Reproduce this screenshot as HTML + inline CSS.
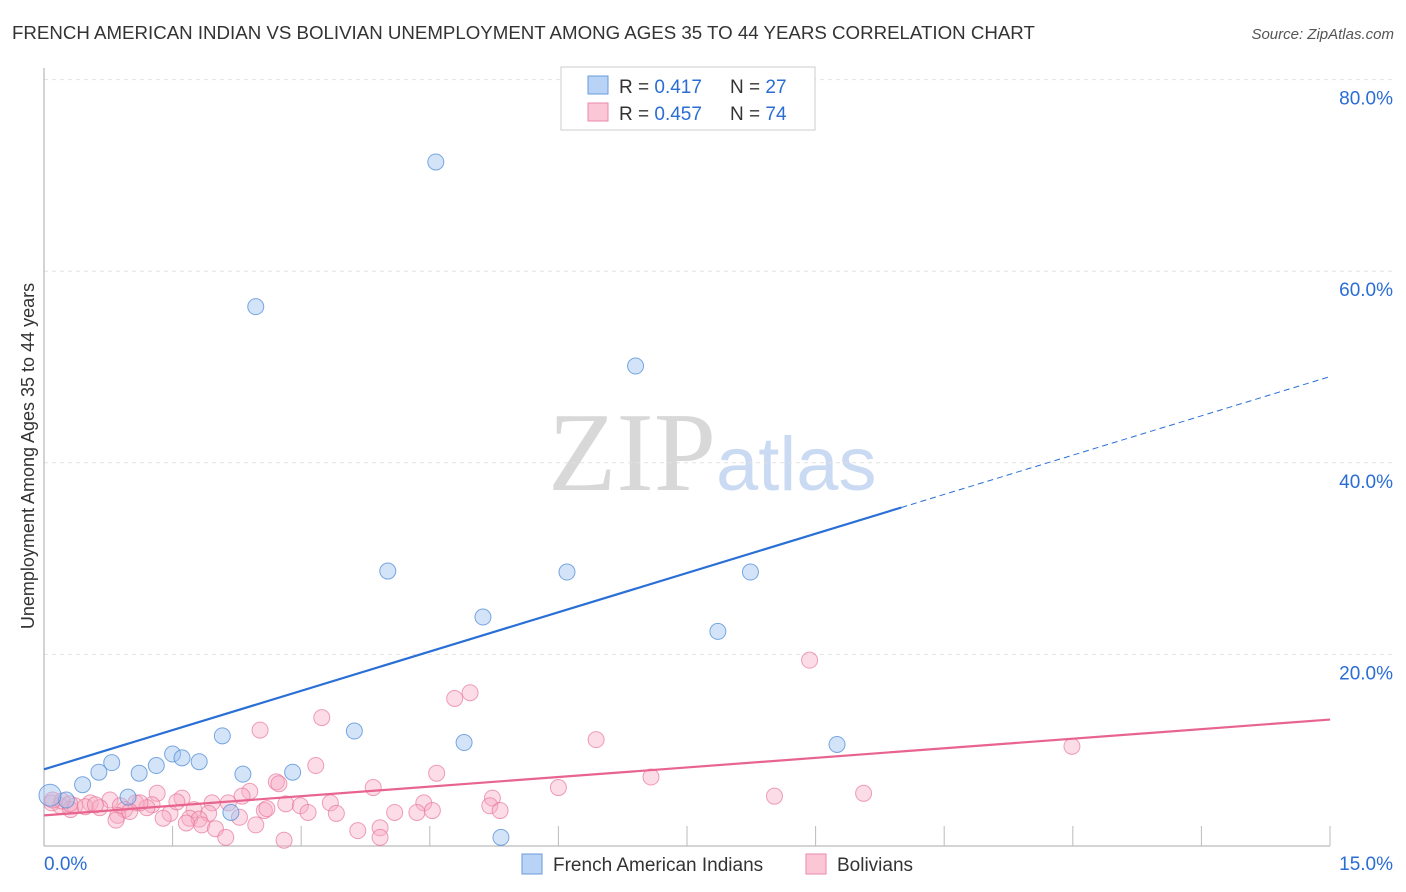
<!DOCTYPE html>
<html><head><meta charset="utf-8"><style>
body{margin:0;background:#fff;font-family:"Liberation Sans",sans-serif;}
svg{display:block}
</style></head><body>
<svg id="c" width="1406" height="892" xmlns="http://www.w3.org/2000/svg">
<text x="12" y="39" font-size="18.7" fill="#333">FRENCH AMERICAN INDIAN VS BOLIVIAN UNEMPLOYMENT AMONG AGES 35 TO 44 YEARS CORRELATION CHART</text>
<text x="1394" y="39" font-size="15" fill="#555" font-style="italic" text-anchor="end">Source: ZipAtlas.com</text>
<text x="716" y="490" font-size="112" fill="#d8d8d8" font-family="Liberation Serif,serif" text-anchor="end">ZIP</text>
<text x="716" y="490" font-size="76" fill="#c9daf2">atlas</text>
<text transform="translate(34,456) rotate(-90)" font-size="18" fill="#333" text-anchor="middle">Unemployment Among Ages 35 to 44 years</text>
<g id="grid"></g><g id="marks"></g><g id="lines"></g>
<g>
<rect x="561" y="67" width="254" height="63" fill="#fff" stroke="#ccc"/>
<rect x="588" y="76" width="20" height="18" fill="#b8d3f5" stroke="#6a9bdc"/>
<rect x="588" y="103" width="20" height="18" fill="#fbc6d5" stroke="#e88aa8"/>
<text x="619" y="93" font-size="19" fill="#333">R = <tspan fill="#2a6dd4">0.417</tspan></text>
<text x="730" y="93" font-size="19" fill="#333">N = <tspan fill="#2a6dd4">27</tspan></text>
<text x="619" y="120" font-size="19" fill="#333">R = <tspan fill="#2a6dd4">0.457</tspan></text>
<text x="730" y="120" font-size="19" fill="#333">N = <tspan fill="#2a6dd4">74</tspan></text>
</g>
<g>
<rect x="522" y="854" width="20" height="20" fill="#b8d3f5" stroke="#6a9bdc"/>
<text x="553" y="871" font-size="19" fill="#333">French American Indians</text>
<rect x="806" y="854" width="20" height="20" fill="#fbc6d5" stroke="#e88aa8"/>
<text x="837" y="871" font-size="19" fill="#333">Bolivians</text>
</g>
</svg>
<script>
const xTicks=[0,15];
const yTicks=[20,40,60,80];
const blueX=[4.57,2.47,6.9,4.01,6.1,8.24,5.12,7.86,3.62,4.9,9.25,2.08,1.5,1.61,1.81,0.79,1.31,0.64,1.11,2.32,2.9,0.45,0.98,0.26,0.07,2.18,5.33];
const blueY=[71.4,56.3,50.1,28.7,28.6,28.6,23.9,22.4,12.0,10.8,10.6,11.5,9.6,9.2,8.8,8.7,8.4,7.7,7.6,7.5,7.7,6.4,5.1,4.8,5.3,3.5,0.9];
const pinkX=[8.93,11.99,4.97,4.79,3.24,2.52,6.44,3.17,4.58,7.08,2.71,2.74,3.84,6.0,2.40,1.32,9.56,8.52,5.23,2.31,1.61,0.77,1.07,1.26,1.96,2.15,2.82,3.34,4.43,5.20,0.54,0.36,0.19,0.09,0.89,0.65,1.2,1.75,2.57,2.99,3.08,3.41,4.09,4.35,4.53,5.32,0.31,0.48,0.94,1.47,1.92,0.86,1.39,1.70,1.81,2.28,0.84,1.66,1.84,2.47,2.0,3.66,3.92,3.92,2.12,2.80,1.12,0.60,0.21,0.10,0.3,1.0,1.55,2.6];
const pinkY=[19.4,10.4,16.0,15.4,13.4,12.1,11.1,8.4,7.6,7.2,6.7,6.5,6.1,6.1,5.7,5.5,5.5,5.2,5.0,5.2,5.0,4.8,4.5,4.3,4.5,4.5,4.4,4.5,4.5,4.2,4.5,4.2,4.2,4.5,4.2,4.0,4.0,3.8,3.7,4.2,3.5,3.4,3.5,3.5,3.7,3.7,3.8,4.1,3.8,3.4,3.4,3.2,2.9,2.9,2.8,3.0,2.7,2.4,2.2,2.2,1.8,1.6,1.9,0.9,0.9,0.6,4.5,4.3,4.7,4.8,4.4,3.6,4.6,3.9];
const blueFit=[8.0,49.0];
const pinkFit=[3.2,13.2];
const X0=44,X1=1330,Y0=846,YK=9.58;
const sx=v=>X0+(X1-X0)*v/15;
const sy=v=>Y0-v*YK;
const NS="http://www.w3.org/2000/svg";
function mk(parent,tag,attrs){const e=document.createElementNS(NS,tag);for(const k in attrs)e.setAttribute(k,attrs[k]);document.getElementById(parent).appendChild(e);return e;}
yTicks.forEach(t=>{
 const g=mk('grid','line',{x1:X0,x2:1394,y1:sy(t),y2:sy(t),stroke:'#e2e2e2','stroke-dasharray':'4,4'});
 
 
 const l=mk('grid','text',{x:1393,y:sy(t)+25,'font-size':19,fill:'#2a6dd4','text-anchor':'end'});
 l.textContent=t.toFixed(1)+'%';
 
 
});
mk('grid','line',{x1:X0,x2:X0,y1:68,y2:Y0,stroke:'#aaa'});
mk('grid','line',{x1:X0,x2:X1,y1:Y0,y2:Y0,stroke:'#aaa'});
for(let i=1;i<=10;i++){const x=sx(i*1.5);mk('grid','line',{x1:x,x2:x,y1:826,y2:Y0,stroke:'#bbb'});}
xTicks.forEach((t,i)=>{
 const l=mk('grid','text',{x:i?1393:44,y:870,'font-size':19,fill:'#2a6dd4','text-anchor':i?'end':'start'});
 l.textContent=t.toFixed(1)+'%';
 
 
});
pinkX.forEach((x,i)=>{
 const c=mk('marks','circle',{cx:sx(x),cy:sy(pinkY[i]),r:8,fill:'rgba(248,170,195,0.4)',stroke:'rgba(232,120,155,0.7)','stroke-width':1});
 
 
});
blueX.forEach((x,i)=>{
 const c=mk('marks','circle',{cx:sx(x),cy:sy(blueY[i]),r:i==24?11:8,fill:'rgba(160,195,240,0.45)',stroke:'rgba(80,140,215,0.75)','stroke-width':1});
 
 
});
const fy=(f,x)=>f[0]+(f[1]-f[0])*x/15;
const bs=mk('lines','line',{x1:sx(0),y1:sy(blueFit[0]),x2:sx(10),y2:sy(fy(blueFit,10)),stroke:'#2a6fd6','stroke-width':2.2});


const bd=mk('lines','line',{x1:sx(10),y1:sy(fy(blueFit,10)),x2:sx(15),y2:sy(blueFit[1]),stroke:'#2a6fd6','stroke-width':1,'stroke-dasharray':'6,4'});


const pl=mk('lines','line',{x1:sx(0),y1:sy(pinkFit[0]),x2:sx(15),y2:sy(pinkFit[1]),stroke:'#e8648f','stroke-width':2.2});


</script>
</body></html>
